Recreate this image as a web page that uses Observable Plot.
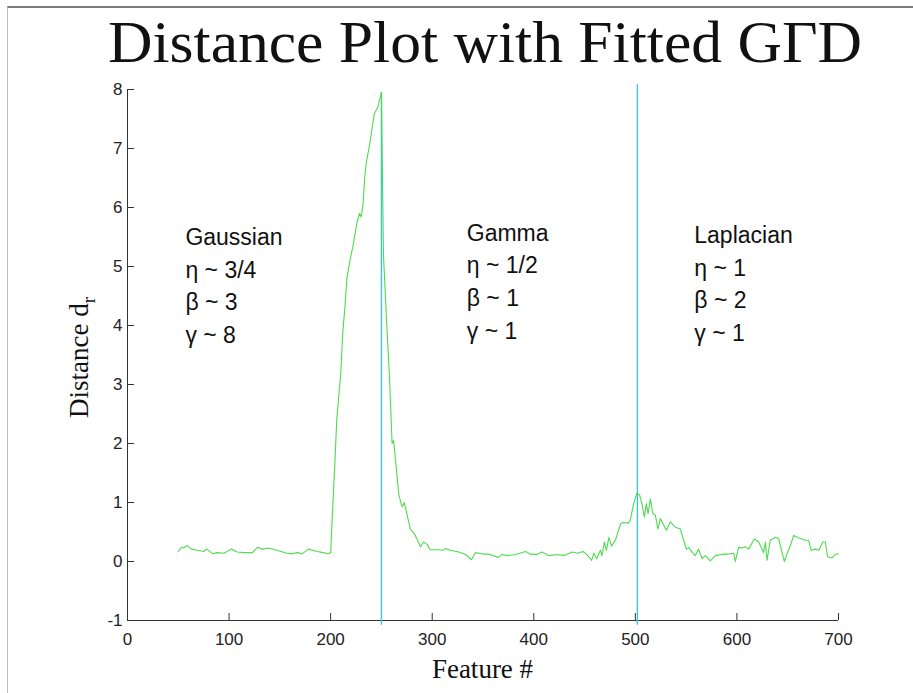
<!DOCTYPE html>
<html><head><meta charset="utf-8">
<script src="https://cdn.jsdelivr.net/npm/d3@7"></script>
<script src="https://cdn.jsdelivr.net/npm/@observablehq/plot@0.6"></script>
<style>
body{margin:0;background:#fff;}
#wrap{position:relative;width:913px;height:693px;overflow:hidden;background:#fff;}
#frame{position:absolute;left:7px;top:6px;width:1000px;height:1000px;border-top:2px solid #7a7a7a;border-left:1px solid #bdbdbd;}
#title{position:absolute;left:0;top:0;overflow:visible;}
#chart{position:absolute;left:0;top:72px;}
</style></head><body>
<div id="wrap">
<div id="frame"></div>
<svg id="title" width="913" height="86"><text x="108" y="62" font-family="Liberation Serif" font-size="60" fill="#111" textLength="754" lengthAdjust="spacingAndGlyphs">Distance Plot with Fitted GΓD</text></svg>
<div id="chart"></div>
</div>
<script>
// ---- data ----
const features = [50,53,55,59,63,69,75,78,84,88,95,102,108,115,123,128,133,139,147,157,162,167,172,178,187,193,197,200,
  202,204,206,208,210,212,214,216,219,222,226,228.5,230,232,233.5,235,238.5,243,246.5,250,
  252,255,258,260.5,262,264,267,269,270.5,272.6,275,278.5,282.5,285,288.4,291.6,295,298,305,311,313,318,326,333,338.6,342.5,349,357,365,369,374,382,392,397,403,408,415,423,430,438,443,448.5,452,457,459,462,465.6,467,469.5,471.5,474,476.5,480.5,485.5,488,493,495,498.3,501.7,
  504.3,506.5,508.9,510.8,512.5,514.8,517.1,519.7,522.3,524.6,527.2,530.5,534.4,539.4,544.3,547.6,550.2,552.5,555.8,559,562.3,565.6,568.9,573.8,578.7,585.3,593.5,596.8,598.4,601.7,605,608.3,611.5,617.1,621.4,624.7,626.3,628,629.6,632.9,637.8,641.1,644.4,646.7,649.3,652.6,655.9,662.4,667.3,670.6,673,677.2,680.5,684.7,687,689.3,693.6,696.9,700];
const distances = [0.17,0.24,0.23,0.27,0.21,0.19,0.17,0.21,0.13,0.15,0.14,0.21,0.16,0.15,0.15,0.24,0.21,0.23,0.19,0.14,0.13,0.15,0.13,0.21,0.17,0.15,0.13,0.15,
  0.9,1.6,2.4,2.8,3.2,3.9,4.3,4.8,5.1,5.35,5.75,5.9,5.84,6.06,6.5,6.75,7.08,7.59,7.70,7.95,
  5.2,4.1,3.1,2.0,2.05,1.7,1.15,1.0,0.93,1.0,0.81,0.55,0.47,0.38,0.25,0.33,0.29,0.2,0.2,0.19,0.22,0.19,0.16,0.12,0.03,0.15,0.13,0.12,0.07,0.12,0.10,0.12,0.17,0.12,0.12,0.16,0.10,0.12,0.10,0.16,0.14,0.17,0.12,0.02,0.14,0.05,0.19,0.10,0.33,0.19,0.41,0.26,0.37,0.64,0.66,0.65,0.70,0.98,1.16,
  1.12,0.98,0.75,0.98,0.81,1.06,0.82,0.78,0.55,0.73,0.64,0.53,0.67,0.58,0.55,0.36,0.21,0.24,0.16,0.10,0.21,0.05,0.10,0.01,0.10,0.12,0.13,0.14,0.0,0.24,0.23,0.25,0.21,0.38,0.33,0.21,0.15,0.33,0.02,0.36,0.41,0.39,0.15,0.0,0.13,0.27,0.44,0.39,0.36,0.36,0.19,0.21,0.19,0.33,0.33,0.08,0.06,0.12,0.13];
const boundaries = [250, 502];
const boundaryLow = [-1.08, -1.08];
const boundaryHigh = [7.95, 8.08];
const xDomain = [0, 700];
const yDomain = [-1, 8];
const xTicks = [0, 100, 200, 300, 400, 500, 600, 700];
const yTicks = [-1, 0, 1, 2, 3, 4, 5, 6, 7, 8];
const regionNames = ["Gaussian", "Gamma", "Laplacian"];
const regionEta = ["3/4", "1/2", "1"];
const regionBeta = ["3", "1", "2"];
const regionGamma = ["8", "1", "1"];
const labelX = [57, 334, 558];
const labelY = [5.76, 5.83, 5.79];

// ---- layout ----
const W = 913, H = 621, mL = 127, mR = 75, mT = 17, mB = 73;
const frameW = W - mL - mR, frameH = H - mT - mB, tickLen = 7;
const axisColor = "#333";

const rows = features.map((x, i) => ({x, y: distances[i]}));

const plot = Plot.plot({
  width: W, height: H,
  marginLeft: mL, marginRight: mR, marginTop: mT, marginBottom: mB,
  style: {fontFamily: "Liberation Sans, Arial, sans-serif", fontSize: "17px", background: "transparent", overflow: "visible", color: "#222"},
  x: {domain: xDomain, ticks: xTicks, tickSize: 0, tickPadding: 12, label: null, tickFormat: d => String(d)},
  y: {domain: yDomain, ticks: yTicks, tickSize: 0, tickPadding: 5, label: null, tickFormat: d => String(d)},
  marks: [
    Plot.ruleX([xDomain[0]], {y1: yDomain[0], y2: yDomain[1], stroke: axisColor}),
    Plot.ruleY([yDomain[0]], {x1: xDomain[0], x2: xDomain[1], stroke: axisColor}),
    Plot.tickX(xTicks.slice(1), {x: d => d, insetTop: frameH - tickLen, stroke: axisColor}),
    Plot.tickY(yTicks.slice(1), {y: d => d, insetRight: frameW - tickLen, stroke: axisColor}),
    Plot.ruleX(boundaries, {x: d => d, y1: (d, i) => boundaryLow[i], y2: (d, i) => boundaryHigh[i], stroke: "#3cc6d6", strokeWidth: 1.4}),
    Plot.line(rows, {x: "x", y: "y", stroke: "#4ddc4d", strokeWidth: 1.1}),
    Plot.text(regionNames, {
      x: (d, i) => labelX[i], y: (d, i) => labelY[i],
      text: (d, i) => `${d}\nη ~ ${regionEta[i]}\nβ ~ ${regionBeta[i]}\nγ ~ ${regionGamma[i]}`,
      textAnchor: "start", lineAnchor: "top", fontSize: 23, lineHeight: 1.42, fill: "#111"
    })
  ]
});
document.getElementById("chart").appendChild(plot);

// letter spacing for annotation text
d3.select(plot).selectAll("text").filter(function(){ return this.getAttribute("font-size") === "23"; })
  .attr("letter-spacing", "1.1px");

// axis titles
const sx = plot.scale("x"), sy = plot.scale("y");
const svg = d3.select(plot);
svg.append("text")
  .attr("x", sx.apply((xDomain[0] + xDomain[1]) / 2))
  .attr("y", sy.apply(yDomain[0]) + 58)
  .attr("text-anchor", "middle")
  .attr("font-family", "Liberation Serif, serif")
  .attr("font-size", 27).attr("fill", "#111")
  .text("Feature #");
const yl = svg.append("text")
  .attr("transform", `translate(88,${sy.apply((yDomain[0] + yDomain[1]) / 2) + 3}) rotate(-90)`)
  .attr("text-anchor", "middle")
  .attr("font-family", "Liberation Serif, serif")
  .attr("font-size", 27).attr("fill", "#111");
yl.append("tspan").text("Distance d");
yl.append("tspan").attr("font-size", 19).attr("dy", 7).text("r");
</script>
</body></html>
